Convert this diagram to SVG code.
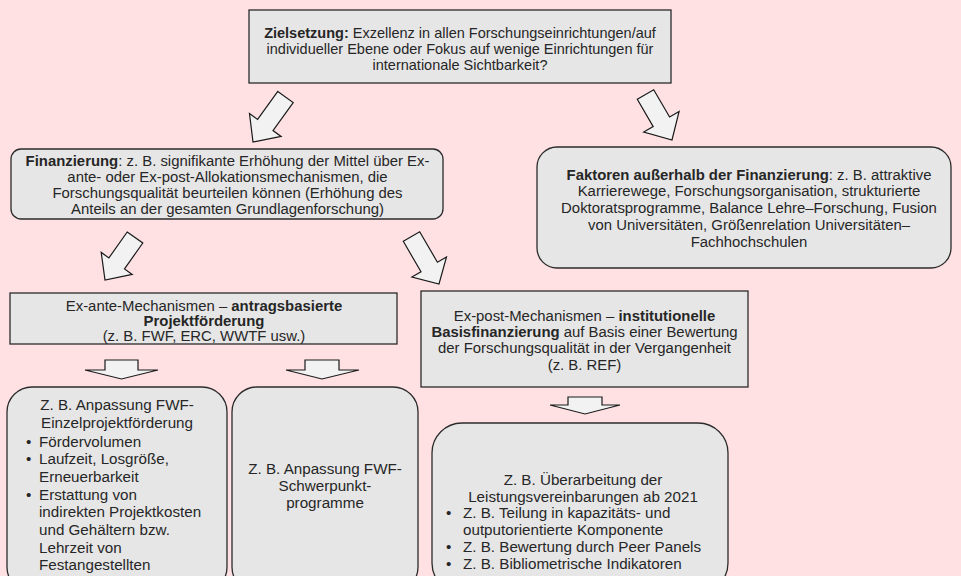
<svg xmlns="http://www.w3.org/2000/svg" width="961" height="576" viewBox="0 0 961 576">
<style>
.box{fill:#e6e6e6;stroke:#2b2b2b;stroke-width:1.3}
.arr{fill:#f2f2f2;stroke:#1a1a1a;stroke-width:1.2;stroke-linejoin:miter}
text{font-family:"Liberation Sans",Arial,sans-serif;fill:#262626;font-size:14.9px}
.t{font-size:14.5px}
.c{text-anchor:middle}
.b{font-weight:bold}
.s{font-size:15.2px}
</style>
<rect width="961" height="576" fill="#ffe1e4"/>
<g id="connectors">
<polygon class="arr" points="277.8,91.4 293.2,102.6 273.0,130.6 281.1,136.4 253,142 249.5,113.6 257.6,119.4"/>
<polygon class="arr" points="637.3,99.3 653.7,89.7 669.6,117.0 679.1,111.5 672,140 643.7,132.1 653.2,126.6"/>
<polygon class="arr" points="127.2,232.0 142.8,243.0 124.5,268.9 132.2,274.4 105,280 101.2,252.4 108.9,257.9"/>
<polygon class="arr" points="403.3,241.3 419.7,231.7 437.4,262.2 446.5,257.0 439,284 411.9,277.0 421.0,271.8"/>
<polygon class="arr" points="105,360 138,360 138,370 158,370 121.5,379 85,370 105,370"/>
<polygon class="arr" points="305,360 339,360 339,370 359,370 322,379 286,370 305,370"/>
<polygon class="arr" points="568,397 602,397 602,405 620,405 585,414 550,405 568,405"/>
</g>
<g id="ziel">
<rect class="box" x="249" y="10" width="422" height="73"/>
<text class="c t" x="460" y="38"><tspan class="b">Zielsetzung:</tspan> Exzellenz in allen Forschungseinrichtungen/auf</text>
<text class="c t" x="460" y="54">individueller Ebene oder Fokus auf wenige Einrichtungen für</text>
<text class="c t" x="460" y="70">internationale Sichtbarkeit?</text>
</g>
<g id="finanzierung">
<rect class="box" x="11" y="149" width="432" height="70" rx="10"/>
<text class="c" x="227.5" y="165.5"><tspan class="b">Finanzierung</tspan>: z. B. signifikante Erhöhung der Mittel über Ex-</text>
<text class="c" x="227.5" y="181.5">ante- oder Ex-post-Allokationsmechanismen, die</text>
<text class="c" x="227.5" y="197.5">Forschungsqualität beurteilen können (Erhöhung des</text>
<text class="c" x="227.5" y="213.5">Anteils an der gesamten Grundlagenforschung)</text>
</g>
<g id="faktoren">
<rect class="box" x="537" y="147" width="414" height="121" rx="20"/>
<text class="c" x="749" y="179.5"><tspan class="b">Faktoren außerhalb der Finanzierung</tspan>: z. B. attraktive</text>
<text class="c" x="749" y="196">Karrierewege, Forschungsorganisation, strukturierte</text>
<text class="c" x="749" y="213">Doktoratsprogramme, Balance Lehre–Forschung, Fusion</text>
<text class="c" x="749" y="229.5">von Universitäten, Größenrelation Universitäten–</text>
<text class="c" x="749" y="247">Fachhochschulen</text>
</g>
<g id="exante">
<rect class="box" x="10" y="293" width="387" height="51"/>
<text class="c" x="204" y="311"><tspan>Ex-ante-Mechanismen – </tspan><tspan class="b">antragsbasierte</tspan></text>
<text class="c b" x="204" y="326">Projektförderung</text>
<text class="c" x="204" y="341">(z. B. FWF, ERC, WWTF usw.)</text>
</g>
<g id="expost">
<rect class="box" x="421" y="291" width="327" height="96"/>
<text class="c" x="584.5" y="320.5">Ex-post-Mechanismen – <tspan class="b">institutionelle</tspan></text>
<text class="c" x="584.5" y="337"><tspan class="b">Basisfinanzierung</tspan> auf Basis einer Bewertung</text>
<text class="c" x="584.5" y="353">der Forschungsqualität in der Vergangenheit</text>
<text class="c" x="584.5" y="370">(z. B. REF)</text>
</g>
<g id="einzelprojekt">
<rect class="box" x="7" y="387" width="220" height="205" rx="25"/>
<text class="c s" x="117" y="410">Z. B. Anpassung FWF-</text>
<text class="c s" x="117" y="428">Einzelprojektförderung</text>
<text class="s" x="26" y="447">•</text><text class="s" x="39" y="447">Fördervolumen</text>
<text class="s" x="26" y="464">•</text><text class="s" x="39" y="464">Laufzeit, Losgröße,</text>
<text class="s" x="39" y="482">Erneuerbarkeit</text>
<text class="s" x="26" y="500">•</text><text class="s" x="39" y="500">Erstattung von</text>
<text class="s" x="39" y="517">indirekten Projektkosten</text>
<text class="s" x="39" y="535">und Gehältern bzw.</text>
<text class="s" x="39" y="553">Lehrzeit von</text>
<text class="s" x="39" y="570">Festangestellten</text>
</g>
<g id="schwerpunkt">
<rect class="box" x="232" y="387" width="186" height="205" rx="25"/>
<text class="c s" x="325" y="474">Z. B. Anpassung FWF-</text>
<text class="c s" x="325" y="491">Schwerpunkt-</text>
<text class="c s" x="325" y="508">programme</text>
</g>
<g id="leistung">
<rect class="box" x="432" y="423" width="296" height="170" rx="30"/>
<text class="c s" x="583" y="485">Z. B. Überarbeitung der</text>
<text class="c s" x="583" y="502">Leistungsvereinbarungen ab 2021</text>
<text class="s" x="446" y="518">•</text><text class="s" x="463" y="518">Z. B. Teilung in kapazitäts- und</text>
<text class="s" x="463" y="535">outputorientierte Komponente</text>
<text class="s" x="446" y="552">•</text><text class="s" x="463" y="552">Z. B. Bewertung durch Peer Panels</text>
<text class="s" x="446" y="569">•</text><text class="s" x="463" y="569">Z. B. Bibliometrische Indikatoren</text>
</g>
</svg>
